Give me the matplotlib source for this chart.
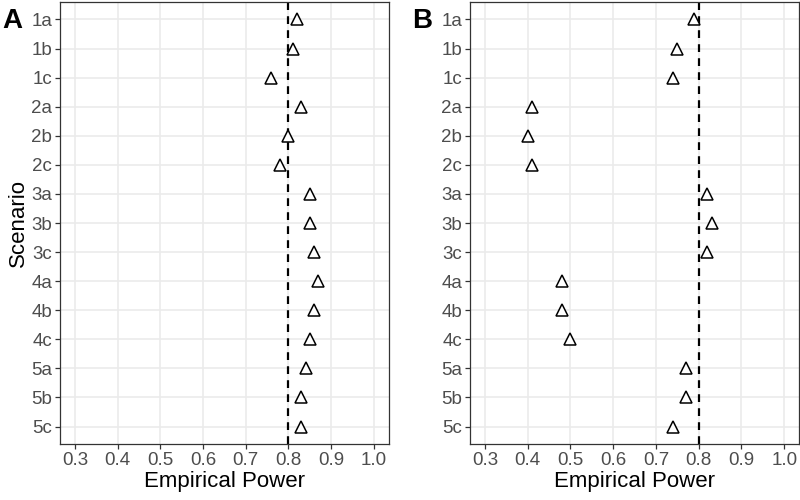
import matplotlib
matplotlib.use("Agg")
import matplotlib.pyplot as plt

scenarios = ["1a", "1b", "1c", "2a", "2b", "2c", "3a", "3b", "3c",
             "4a", "4b", "4c", "5a", "5b", "5c"]
power_A = [0.82, 0.81, 0.76, 0.83, 0.80, 0.78, 0.85, 0.85, 0.86,
           0.87, 0.86, 0.85, 0.84, 0.83, 0.83]
power_B = [0.79, 0.75, 0.74, 0.41, 0.40, 0.41, 0.82, 0.83, 0.82,
           0.48, 0.48, 0.50, 0.77, 0.77, 0.74]
x_ticks = [0.3, 0.4, 0.5, 0.6, 0.7, 0.8, 0.9, 1.0]
target = 0.8

plt.rcParams['font.family'] = ['Liberation Sans', 'DejaVu Sans']

fig = plt.figure(figsize=(8, 5), dpi=100)
axA = fig.add_axes([0.075, 0.112, 0.411, 0.884])
axB = fig.add_axes([0.5875, 0.112, 0.4115, 0.884])

ypos = list(range(len(scenarios)))
for ax, vals, lab, lx in [(axA, power_A, "A", 0.0), (axB, power_B, "B", 0.512)]:
    ax.set_axisbelow(True)
    ax.grid(True, color="#EBEBEB", linewidth=1.2)
    ax.axvline(target, color="black", linestyle=(0, (3.5, 2.8)), linewidth=1.6, zorder=2)
    ax.plot(vals, ypos, linestyle="none", marker="^", markersize=9,
            markerfacecolor="white", markeredgecolor="black", markeredgewidth=1.1, zorder=3)
    ax.set_xlim(0.265, 1.035)
    ax.set_ylim(len(scenarios) - 1 + 0.6, -0.6)
    ax.set_xticks(x_ticks)
    ax.set_xticklabels([f"{t:.1f}" for t in x_ticks])
    ax.set_yticks(ypos)
    ax.set_yticklabels(scenarios)
    ax.tick_params(axis="both", labelsize=13.5, colors="#333333", labelcolor="#4D4D4D",
                   length=3.5, width=0.9, pad=2)
    for s in ax.spines.values():
        s.set_color("#333333")
        s.set_linewidth(0.9)
    ax.set_xlabel("Empirical Power", fontsize=16, color="black", labelpad=2)
    fig.text(lx + 0.003, 0.985, lab, fontsize=20, fontweight="bold", va="top", ha="left")

axA.set_ylabel("Scenario", fontsize=16, color="black", labelpad=2)

fig.savefig("out.png", dpi=100)
